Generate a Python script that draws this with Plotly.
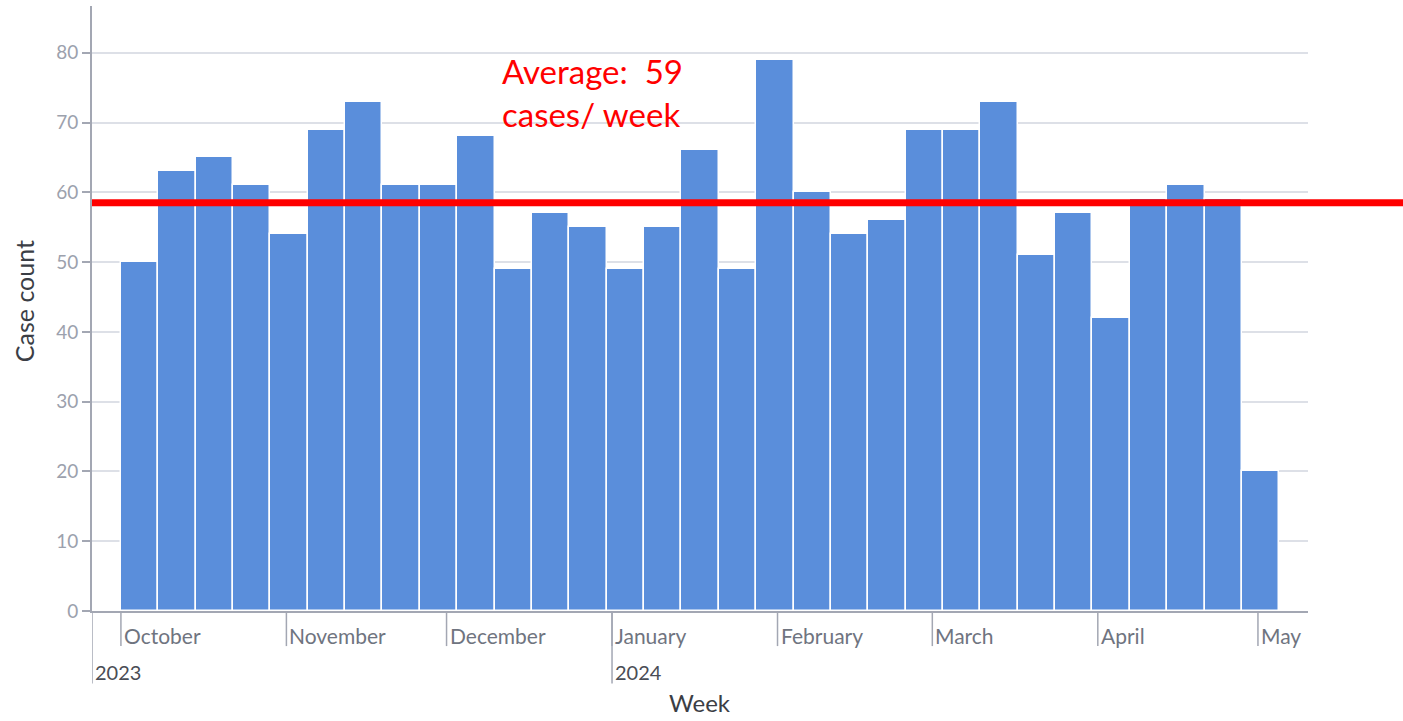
import plotly.graph_objects as go
import pandas as pd

# ---- data ----
week_starts = pd.date_range("2023-10-01", periods=31, freq="7D")
case_counts = [50, 63, 65, 61, 54, 69, 73, 61, 61, 68, 49, 57, 55, 49, 55, 66,
               49, 79, 60, 54, 56, 69, 69, 73, 51, 57, 42, 59, 61, 59, 20]
month_ticks = ["2023-10-01", "2023-11-01", "2023-12-01", "2024-01-01", "2024-02-01",
               "2024-03-01", "2024-04-01", "2024-05-01"]
month_labels = ["October", "November", "December", "January", "February",
                "March", "April", "May"]
year_ticks = ["2023-09-25 14:00", "2024-01-01"]
year_labels = ["2023", "2024"]
average_line = 58.5
average_text = "Average:  59<br>cases/ week"
x_range = ["2023-09-25 14:00", "2024-05-10 09:00"]
y_range = [0, 86.7]

WEEK_MS = 7 * 24 * 3600 * 1000
AXIS_COL = "#a3a7b3"
TICK_COL = "#6f7480"

fig = go.Figure()
fig.add_trace(go.Bar(
    x=week_starts, y=case_counts,
    width=[WEEK_MS] * len(case_counts), offset=0,
    marker=dict(color="#5a8edb", line=dict(color="white", width=1.5)),
    showlegend=False,
))

shapes = []
annotations = []
for d, lab in zip(month_ticks, month_labels):
    shapes.append(dict(type="line", xref="x", yref="paper", x0=d, x1=d,
                       y0=0, y1=-0.058, line=dict(color=AXIS_COL, width=1.5)))
    annotations.append(dict(x=d, y=-0.041, xref="x", yref="paper", text=lab,
                            showarrow=False, xanchor="left", yanchor="middle",
                            xshift=1, font=dict(size=21, color=TICK_COL, family="Lato")))
for d, lab in zip(year_ticks, year_labels):
    shapes.append(dict(type="line", xref="x", yref="paper", x0=d, x1=d,
                       y0=0, y1=-0.12, line=dict(color=AXIS_COL, width=1.5)))
    annotations.append(dict(x=d, y=-0.101, xref="x", yref="paper", text=lab,
                            showarrow=False, xanchor="left", yanchor="middle",
                            xshift=1, font=dict(size=20, color="#4a4d55", family="Lato")))

# average line
shapes.append(dict(type="line", xref="paper", yref="y", x0=0, x1=1.08,
                   y0=average_line, y1=average_line,
                   line=dict(color="#ff0000", width=7)))
annotations.append(dict(x="2023-12-11", y=80.6, xref="x", yref="y", text=average_text,
                        showarrow=False, xanchor="left", yanchor="top", align="left",
                        font=dict(size=33, color="#ff0000", family="Lato")))
annotations.append(dict(x=0.5, y=-0.179, xref="paper", yref="paper", text="Week",
                        showarrow=False, xanchor="center", yanchor="bottom",
                        font=dict(size=24, color="#3b3e45", family="Lato")))
annotations.append(dict(x=-0.056, y=0.512, xref="paper", yref="paper", text="Case count",
                        showarrow=False, xanchor="center", yanchor="middle", textangle=-90,
                        font=dict(size=25, color="#3b3e45", family="Lato")))

fig.update_layout(
    width=1403, height=721,
    margin=dict(l=92, r=95, t=6, b=110, autoexpand=False),
    plot_bgcolor="white", paper_bgcolor="white",
    bargap=0,
    shapes=shapes,
    annotations=annotations,
    xaxis=dict(range=x_range, type="date", showticklabels=False, ticks="",
               showgrid=False, showline=True, linecolor=AXIS_COL, linewidth=2,
               zeroline=False, automargin=False),
    yaxis=dict(range=y_range, tickvals=[0, 10, 20, 30, 40, 50, 60, 70, 80],
               showgrid=True, gridcolor="#dde0e7", gridwidth=1.5,
               showline=True, linecolor=AXIS_COL, linewidth=2,
               ticks="outside", ticklen=8, tickcolor=AXIS_COL, tickwidth=1.5,
               tickfont=dict(size=19, color="#9ca1ad", family="Lato"),
               zeroline=False, automargin=False),
)

fig.write_html("out.html", config={"displayModeBar": False},
               post_script="document.body.style.margin='0px';")
